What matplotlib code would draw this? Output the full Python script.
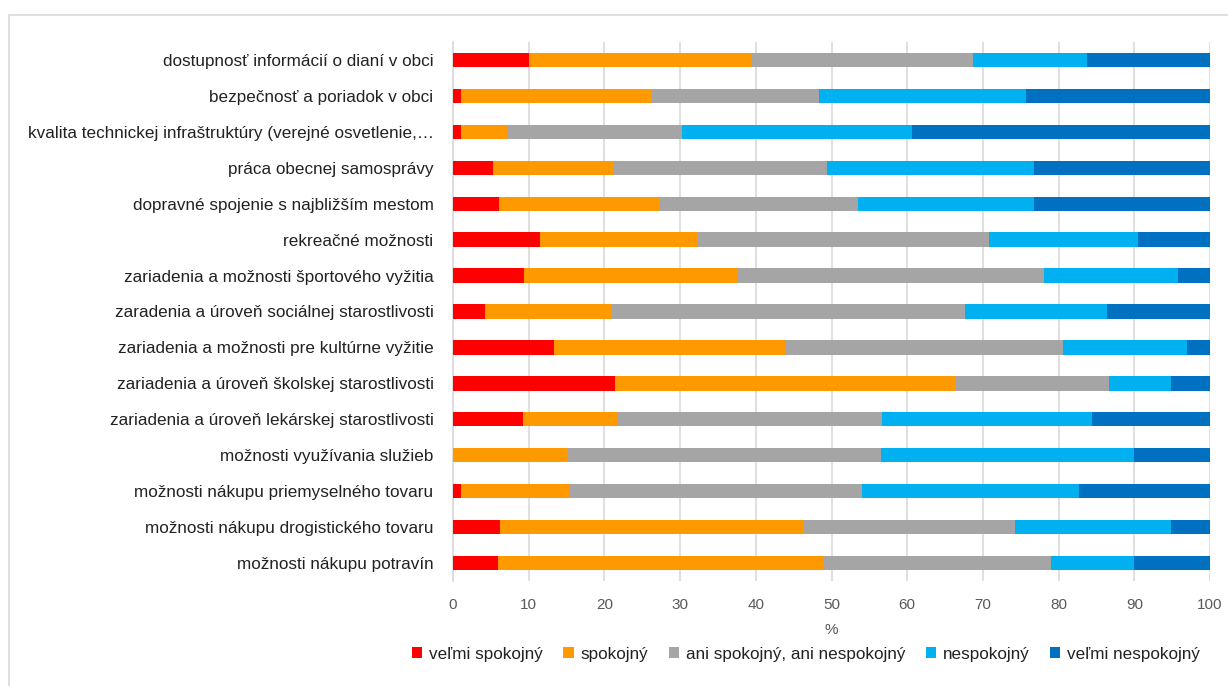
import numpy as np
import matplotlib
matplotlib.use("Agg")
import matplotlib.pyplot as plt
from matplotlib.patches import Rectangle

# categories listed top to bottom as in the chart
categories = [
    'dostupnosť informácií o dianí v obci',
    'bezpečnosť a poriadok v obci',
    'kvalita technickej infraštruktúry (verejné osvetlenie,…',
    'práca obecnej samosprávy',
    'dopravné spojenie s najbližším mestom',
    'rekreačné možnosti',
    'zariadenia a možnosti športového vyžitia',
    'zaradenia a úroveň sociálnej starostlivosti',
    'zariadenia a možnosti pre kultúrne vyžitie',
    'zariadenia a úroveň školskej starostlivosti',
    'zariadenia a úroveň lekárskej starostlivosti',
    'možnosti využívania služieb',
    'možnosti nákupu priemyselného tovaru',
    'možnosti nákupu drogistického tovaru',
    'možnosti nákupu potravín',
]

series_names = ['veľmi spokojný', 'spokojný', 'ani spokojný, ani nespokojný',
                'nespokojný', 'veľmi nespokojný']
colors = ['#ff0000', '#ff9900', '#a5a5a5', '#00b0f0', '#0070c0']

velmi_spokojny = [10.0, 1.1, 1.1, 5.3, 6.1, 11.5, 9.4, 4.2, 13.3, 21.4, 9.2, 0.0, 1.0, 6.2, 6.0]
spokojny = [29.4, 25.2, 6.0, 15.8, 21.2, 20.8, 28.1, 16.7, 30.6, 44.9, 12.5, 15.2, 14.3, 40.2, 43.0]
ani_ani = [29.3, 22.1, 23.2, 28.3, 26.2, 38.5, 40.6, 46.7, 36.7, 20.3, 35.0, 41.3, 38.7, 27.8, 30.0]
nespokojny = [15.1, 27.3, 30.3, 27.3, 23.2, 19.7, 17.7, 18.8, 16.3, 8.2, 27.7, 33.4, 28.7, 20.6, 10.9]
velmi_nespokojny = [16.2, 24.3, 39.4, 23.3, 23.3, 9.5, 4.2, 13.6, 3.1, 5.2, 15.6, 10.1, 17.3, 5.2, 10.1]

x_ticks = list(range(0, 101, 10))

plt.rcParams['font.family'] = ['Liberation Sans', 'DejaVu Sans']

fig = plt.figure(figsize=(12.28, 6.86), dpi=100)
ax = fig.add_axes([453 / 1228, 105 / 686, 757 / 1228, 539 / 686])

# chart area border
fig.patches.append(Rectangle((9 / 1228, -0.1), 1.2, (686 - 15) / 686 + 0.1,
                             transform=fig.transFigure, fill=False,
                             edgecolor='#d9d9d9', linewidth=1.2))

data = [velmi_spokojny, spokojny, ani_ani, nespokojny, velmi_nespokojny]
y = np.arange(len(categories))[::-1]
left = np.zeros(len(categories))
for vals, name, col in zip(data, series_names, colors):
    vals = np.array(vals)
    ax.barh(y, vals, left=left, height=0.4, color=col, label=name, zorder=3)
    left += vals

ax.set_xlim(0, 100)
ax.set_ylim(-0.5, len(categories) - 0.5)
ax.set_xticks(x_ticks)
ax.set_yticks(y)
ax.set_yticklabels(categories, fontsize=12.3, color='#222222')
ax.tick_params(axis='x', length=0, labelsize=11, labelcolor='#595959', pad=12)
ax.tick_params(axis='y', length=0, pad=14)
ax.grid(axis='x', color='#d9d9d9', linewidth=1.2, zorder=0)
for s in ['top', 'right', 'bottom']:
    ax.spines[s].set_visible(False)
ax.spines['left'].set_color('#d9d9d9')
ax.spines['left'].set_linewidth(1.2)
ax.set_xlabel('%', fontsize=11, color='#595959', labelpad=8)

ax.legend(loc='center', bbox_to_anchor=(806 / 1228, 32 / 686),
          bbox_transform=fig.transFigure, ncol=5, frameon=False,
          fontsize=12.3, handlelength=0.6, handleheight=0.6, handletextpad=0.4,
          columnspacing=1.2, labelcolor='#222222')

fig.savefig('out.png', dpi=100)
